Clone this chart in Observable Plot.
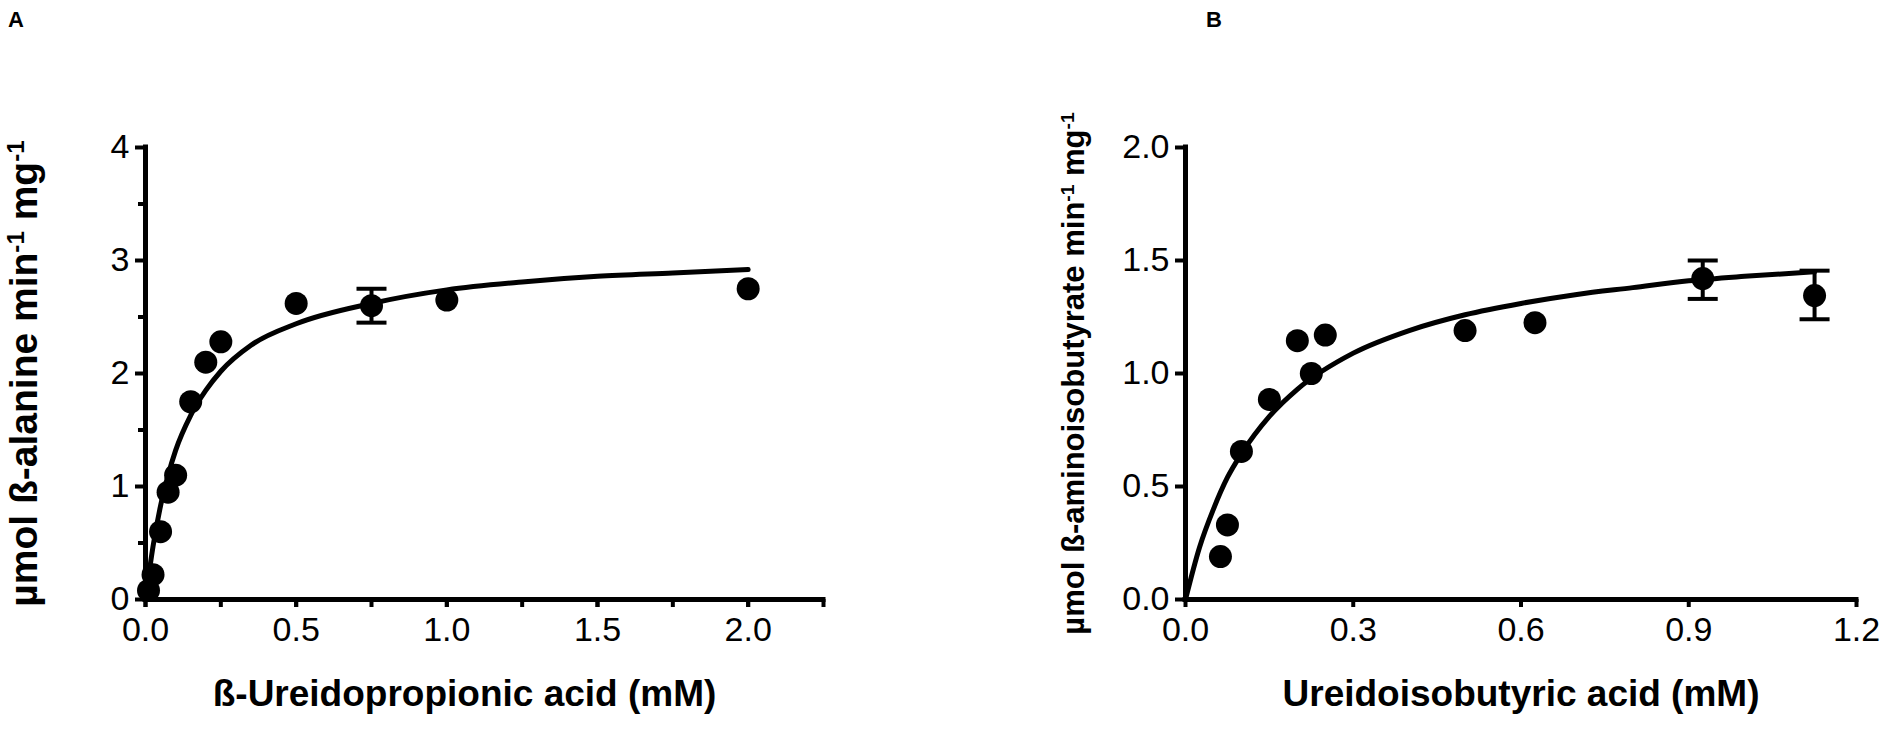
<!DOCTYPE html>
<html><head><meta charset="utf-8">
<script src="https://cdn.jsdelivr.net/npm/d3@7"></script>
<script src="https://cdn.jsdelivr.net/npm/@observablehq/plot@0.6"></script>
<style>
body{margin:0;background:#fff;font-family:"Liberation Sans",Arial,sans-serif;}
#wrap{position:relative;width:1890px;height:748px;display:flex;}
.panel{position:relative;width:945px;height:748px;}
.letter{position:absolute;font-weight:bold;font-size:22px;top:7px;color:#000;}
svg [aria-label="x-axis label"], svg [aria-label="y-axis label"]{font-weight:bold;}
</style></head><body>
<div id="wrap">
  <div class="panel" id="pa"><div class="letter" style="left:8px">A</div></div>
  <div class="panel" id="pb"><div class="letter" style="left:261px">B</div></div>
</div>
<script>
// ---------- Panel A data ----------
const aConc = [0.01, 0.025, 0.05, 0.075, 0.1, 0.15, 0.2, 0.25, 0.5, 0.75, 1.0, 2.0];
const aRate = [0.08, 0.22, 0.60, 0.95, 1.10, 1.75, 2.10, 2.28, 2.62, 2.60, 2.65, 2.75];
const aErrConc = [0.75];
const aErrLo = [2.45];
const aErrHi = [2.75];
const aFitConc = [0, 0.025, 0.05, 0.075, 0.1, 0.15, 0.2, 0.25, 0.35, 0.5, 0.75, 1.0, 1.25, 1.5, 1.75, 2.0];
const aFitRate = [0, 0.47, 0.83, 1.10, 1.32, 1.63, 1.85, 2.02, 2.25, 2.44, 2.62, 2.74, 2.81, 2.86, 2.89, 2.92];
const aXDomain = [0, 2.25];
const aYDomain = [0, 4];
const aXTicks = [0, 0.25, 0.5, 0.75, 1.0, 1.25, 1.5, 1.75, 2.0, 2.25];
const aXLabels = [0, 0.5, 1.0, 1.5, 2.0];
const aYMajor = [0, 1, 2, 3, 4];
const aYMinor = [0.5, 1.5, 2.5, 3.5];
const aXTitle = "ß-Ureidopropionic acid (mM)";
const aYTitle = ["µmol ß-alanine min", "-1", " mg", "-1"];

// ---------- Panel B data ----------
const bConc = [0.0625, 0.075, 0.1, 0.15, 0.2, 0.225, 0.25, 0.5, 0.625, 0.925, 1.125];
const bRate = [0.19, 0.33, 0.655, 0.885, 1.145, 1.0, 1.17, 1.19, 1.225, 1.42, 1.345];
const bErrConc = [0.925, 1.125];
const bErrLo = [1.33, 1.24];
const bErrHi = [1.50, 1.455];
const bFitConc = [0, 0.025, 0.05, 0.075, 0.1, 0.15, 0.2, 0.3, 0.4, 0.5, 0.6, 0.7, 0.8, 0.9, 1.0, 1.125];
const bFitRate = [0, 0.23, 0.40, 0.54, 0.645, 0.81, 0.93, 1.09, 1.19, 1.26, 1.31, 1.35, 1.38, 1.41, 1.43, 1.45];
const bXDomain = [0, 1.2];
const bYDomain = [0, 2];
const bXTicks = [0, 0.3, 0.6, 0.9, 1.2];
const bYTicks = [0, 0.5, 1.0, 1.5, 2.0];
const bXTitle = "Ureidoisobutyric acid (mM)";
const bYTitle = ["µmol ß-aminoisobutyrate min", "-1", " mg", "-1"];

const zip = (xs, ys) => xs.map((x, i) => ({x, y: ys[i]}));
const errs = (xs, lo, hi) => xs.map((x, i) => ({x, lo: lo[i], hi: hi[i]}));
const capSymbol = {draw(ctx, size) { const r = Math.sqrt(size / Math.PI); ctx.moveTo(-r, 0); ctx.lineTo(r, 0); }};
const FONT = "'Liberation Sans', Arial, sans-serif";

function panel({width, marginLeft, marginRight, xDomain, yDomain, xTicks, xLabels, yMajor, yMinor, xFmt, yFmt, pts, fit, er,
                xTitle, yTitle, yLabelOffset, xLabelOffset, xTitleSize, yTitleSize, xTitleShift}) {
  const marks = [
    Plot.ruleX([xDomain[0]], {y1: yDomain[0], y2: yDomain[1], strokeWidth: 5, strokeLinecap: "square"}),
    Plot.ruleY([yDomain[0]], {x1: xDomain[0], x2: xDomain[1], strokeWidth: 5, strokeLinecap: "square"}),
    Plot.axisY({ticks: yMajor, tickSize: 10, tickPadding: 6, strokeWidth: 4, fontSize: 34, tickFormat: yFmt,
      label: yTitle.join(""), labelAnchor: "center", labelOffset: yLabelOffset, labelArrow: false}),
    Plot.axisX({ticks: xLabels, tickSize: 8, tickPadding: 9, strokeWidth: 4, fontSize: 34, tickFormat: xFmt,
      label: xTitle, labelAnchor: "center", labelOffset: xLabelOffset, labelArrow: false}),
  ];
  if (yMinor) marks.push(Plot.axisY({ticks: yMinor, tickSize: 7, strokeWidth: 4, text: null, label: null}));
  if (xTicks) marks.push(Plot.axisX({ticks: xTicks, tickSize: 8, strokeWidth: 4, text: null, label: null}));
  marks.push(
    Plot.line(fit, {x: "x", y: "y", strokeWidth: 5, curve: "monotone-x"}),
    Plot.ruleX(er, {x: "x", y1: "lo", y2: "hi", strokeWidth: 4}),
    Plot.dot(er, {x: "x", y: "lo", r: 15, symbol: capSymbol, fill: "none", stroke: "black", strokeWidth: 4}),
    Plot.dot(er, {x: "x", y: "hi", r: 15, symbol: capSymbol, fill: "none", stroke: "black", strokeWidth: 4}),
    Plot.dot(pts, {x: "x", y: "y", r: 11.5, fill: "black", stroke: "none"})
  );
  const svg = Plot.plot({
    width, height: 748, marginLeft, marginRight, marginTop: 147, marginBottom: 149,
    x: {domain: xDomain}, y: {domain: yDomain},
    style: {fontFamily: FONT, color: "#000", background: "white", overflow: "visible"},
    marks
  });
  const sel = d3.select(svg);
  // x title: plain text, chosen size
  sel.select('[aria-label="x-axis label"]').style("font-size", xTitleSize + "px");
  const tx = sel.select('[aria-label="x-axis label"] text');
  if (!tx.empty()) tx.text(xTitle).attr("dx", xTitleShift);
  // y title with superscripts
  sel.select('[aria-label="y-axis label"]').style("font-size", yTitleSize + "px");
  const t = sel.select('[aria-label="y-axis label"] text');
  if (!t.empty()) {
    t.text(null);
    yTitle.forEach((s, i) => {
      const ts = t.append("tspan").text(s);
      if (i % 2 === 1) ts.attr("baseline-shift", "super").attr("font-size", "62%");
    });
  }
  return svg;
}

document.getElementById("pa").appendChild(panel({
  width: 945, marginLeft: 145, marginRight: 122,
  xDomain: aXDomain, yDomain: aYDomain, xTicks: aXTicks, xLabels: aXLabels, yMajor: aYMajor, yMinor: aYMinor,
  xFmt: d3.format(".1f"), yFmt: d3.format("d"),
  pts: zip(aConc, aRate), fit: zip(aFitConc, aFitRate), er: errs(aErrConc, aErrLo, aErrHi),
  xTitle: aXTitle, yTitle: aYTitle, yLabelOffset: 136, xLabelOffset: 106, xTitleSize: 37, yTitleSize: 39, xTitleShift: -20
}));
document.getElementById("pb").appendChild(panel({
  width: 945, marginLeft: 240, marginRight: 34,
  xDomain: bXDomain, yDomain: bYDomain, xTicks: null, xLabels: bXTicks, yMajor: bYTicks, yMinor: null,
  xFmt: d3.format(".1f"), yFmt: d3.format(".1f"),
  pts: zip(bConc, bRate), fit: zip(bFitConc, bFitRate), er: errs(bErrConc, bErrLo, bErrHi),
  xTitle: bXTitle, yTitle: bYTitle, yLabelOffset: 124, xLabelOffset: 106, xTitleSize: 37, yTitleSize: 31, xTitleShift: 0
}));
</script>
</body></html>
